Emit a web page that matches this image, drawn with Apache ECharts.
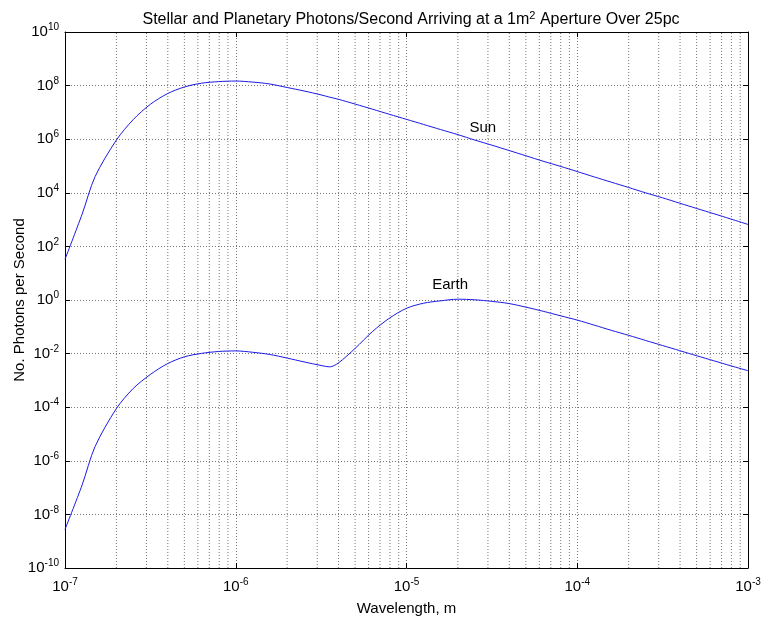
<!DOCTYPE html>
<html>
<head>
<meta charset="utf-8">
<script src="https://cdn.jsdelivr.net/npm/echarts@6/dist/echarts.min.js"></script>
<style>
html,body{margin:0;padding:0;background:#fff;}
#c{width:761px;height:621px;}
</style>
</head>
<body>
<div id="c"></div>
<script>
// Wavelength (m)
const wavelength = [
  1e-7, 1.26e-7, 1.5e-7, 2e-7, 2.51e-7, 3.16e-7, 3.98e-7, 5.01e-7, 6.31e-7, 7.94e-7,
  1e-6, 1.26e-6, 1.58e-6, 2e-6, 2.51e-6, 3.16e-6, 3.55e-6, 3.98e-6, 5.01e-6, 6.31e-6, 7.94e-6,
  1e-5, 1.26e-5, 1.58e-5, 2e-5, 2.51e-5, 3.16e-5, 3.98e-5, 5.01e-5, 6.31e-5, 7.94e-5,
  1e-4, 1.26e-4, 1.58e-4, 2e-4, 2.51e-4, 3.16e-4, 3.98e-4, 5.01e-4, 6.31e-4, 7.94e-4,
  1e-3];
// Photons per second
const sun = [
  33, 1.6e3, 4.0e4, 9.3e5, 5.4e6, 2.0e7, 5.0e7, 8.9e7, 1.23e8, 1.41e8,
  1.48e8, 1.35e8, 1.15e8, 8.5e7, 6.3e7, 4.5e7, 3.7e7, 3.1e7, 2.04e7, 1.32e7, 8.5e6,
  5.5e6, 3.55e6, 2.3e6, 1.48e6, 9.3e5, 6.0e5, 3.8e5, 2.4e5, 1.51e5, 9.8e4,
  6.2e4, 3.9e4, 2.5e4, 1.58e4, 1.0e4, 6.5e3, 4.1e3, 2.6e3, 1.66e3, 1.05e3,
  660];
const earth = [
  2.75e-9, 1.26e-7, 3.4e-6, 8.9e-5, 5.0e-4, 1.66e-3, 4.2e-3, 7.6e-3, 1.02e-2, 1.2e-2,
  1.26e-2, 1.12e-2, 9.3e-3, 6.8e-3, 4.9e-3, 3.6e-3, 3.2e-3, 4.4e-3, 1.58e-2, 6.6e-2, 0.21,
  0.49, 0.76, 0.93, 1.07, 1.02, 0.89, 0.74, 0.54, 0.38, 0.26,
  0.178, 0.115, 0.074, 0.048, 0.031, 0.020, 0.0129, 0.0083, 0.0054, 0.0035,
  0.0023];
// Minor grid positions (x): 2..9 within each decade
const xMinor = [];
[1e-7, 1e-6, 1e-5, 1e-4].forEach(d => { for (let k = 2; k <= 9; k++) xMinor.push(k * d); });
const yMin = 1e-10, yMax = 1e10;
// Curve labels
const sunLabel = {name: 'Sun', x: 2.8e-5, y: 2.6e6};
const earthLabel = {name: 'Earth', x: 1.8e-5, y: 3.6};

const FONT = 'Liberation Sans, Arial, sans-serif';
const gridDot = {color: '#777', width: 1, type: [1, 2]};
function supFmt(v) {
  const e = Math.round(Math.log10(v));
  return '{b|10}{s|' + e + '}';
}
const rich = {
  b: {fontSize: 15, fontFamily: FONT, color: '#000'},
  s: {fontSize: 10, fontFamily: FONT, color: '#000', verticalAlign: 'top', padding: [0, 0, 9, 0]}
};

const minorData = [];
xMinor.forEach(v => { minorData.push([v, yMin], [v, yMax], [v, '-']); });

const chart = echarts.init(document.getElementById('c'), null, {renderer: 'canvas'});
const mk = (vals) => wavelength.map((w, i) => [w, vals[i]]);
chart.setOption({
  animation: false,
  backgroundColor: '#fff',
  title: {
    text: 'Stellar and Planetary Photons/Second Arriving at a 1m{s|2} Aperture Over 25pc',
    left: 406, top: 5, textAlign: 'center',
    textStyle: {fontSize: 16, fontWeight: 'normal', fontFamily: FONT, color: '#000',
      rich: {s: {fontSize: 11, fontFamily: FONT, color: '#000', verticalAlign: 'top', padding: [0, 0, 8, 0]}}}
  },
  grid: {left: 65, right: 13, top: 32, bottom: 53, show: false, containLabel: false, outerBoundsMode: 'none'},
  xAxis: [{
    type: 'log', logBase: 10, min: 1e-7, max: 1e-3,
    name: 'Wavelength, m', nameLocation: 'middle', nameGap: 33,
    nameTextStyle: {fontSize: 15, fontFamily: FONT, color: '#000'},
    axisLine: {show: true, onZero: false, lineStyle: {color: '#000', width: 1}},
    axisTick: {show: true, inside: true, length: 5, lineStyle: {color: '#000'}},
    axisLabel: {formatter: supFmt, rich: rich, margin: 9},
    splitLine: {show: true, lineStyle: gridDot},
    minorTick: {show: false}
  }, {
    type: 'log', logBase: 10, min: 1e-7, max: 1e-3, position: 'top',
    axisLine: {show: true, onZero: false, lineStyle: {color: '#000', width: 1}},
    axisTick: {show: true, inside: true, length: 5, lineStyle: {color: '#000'}},
    axisLabel: {show: false}, splitLine: {show: false}
  }],
  yAxis: [{
    type: 'log', logBase: 10, min: yMin, max: yMax, interval: 2,
    name: 'No. Photons per Second', nameLocation: 'middle', nameGap: 38, nameMoveOverlap: false,
    nameTextStyle: {fontSize: 15, fontFamily: FONT, color: '#000'},
    axisLine: {show: true, onZero: false, lineStyle: {color: '#000', width: 1}},
    axisTick: {show: true, inside: true, length: 5, lineStyle: {color: '#000'}},
    axisLabel: {formatter: supFmt, rich: rich, margin: 6},
    splitLine: {show: true, lineStyle: gridDot}
  }, {
    type: 'log', logBase: 10, min: yMin, max: yMax, interval: 2, position: 'right',
    axisLine: {show: true, onZero: false, lineStyle: {color: '#000', width: 1}},
    axisTick: {show: true, inside: true, length: 5, lineStyle: {color: '#000'}},
    axisLabel: {show: false}, splitLine: {show: false}
  }],
  series: [{
    name: 'minorGrid', type: 'line', data: minorData, showSymbol: false, silent: true,
    connectNulls: false, lineStyle: gridDot, z: 1
  }, {
    name: 'Sun', type: 'line', data: mk(sun), showSymbol: false, smooth: 0.3,
    lineStyle: {color: '#1a1ae6', width: 1}, z: 5,
    markPoint: {
      symbol: 'circle', symbolSize: 0, silent: true,
      label: {show: true, position: 'inside', formatter: '{b}', fontSize: 15, fontFamily: FONT, color: '#000'},
      data: [{name: sunLabel.name, coord: [sunLabel.x, sunLabel.y]}]
    }
  }, {
    name: 'Earth', type: 'line', data: mk(earth), showSymbol: false, smooth: 0.3,
    lineStyle: {color: '#1a1ae6', width: 1}, z: 5,
    markPoint: {
      symbol: 'circle', symbolSize: 0, silent: true,
      label: {show: true, position: 'inside', formatter: '{b}', fontSize: 15, fontFamily: FONT, color: '#000'},
      data: [{name: earthLabel.name, coord: [earthLabel.x, earthLabel.y]}]
    }
  }]
});
</script>
</body>
</html>
